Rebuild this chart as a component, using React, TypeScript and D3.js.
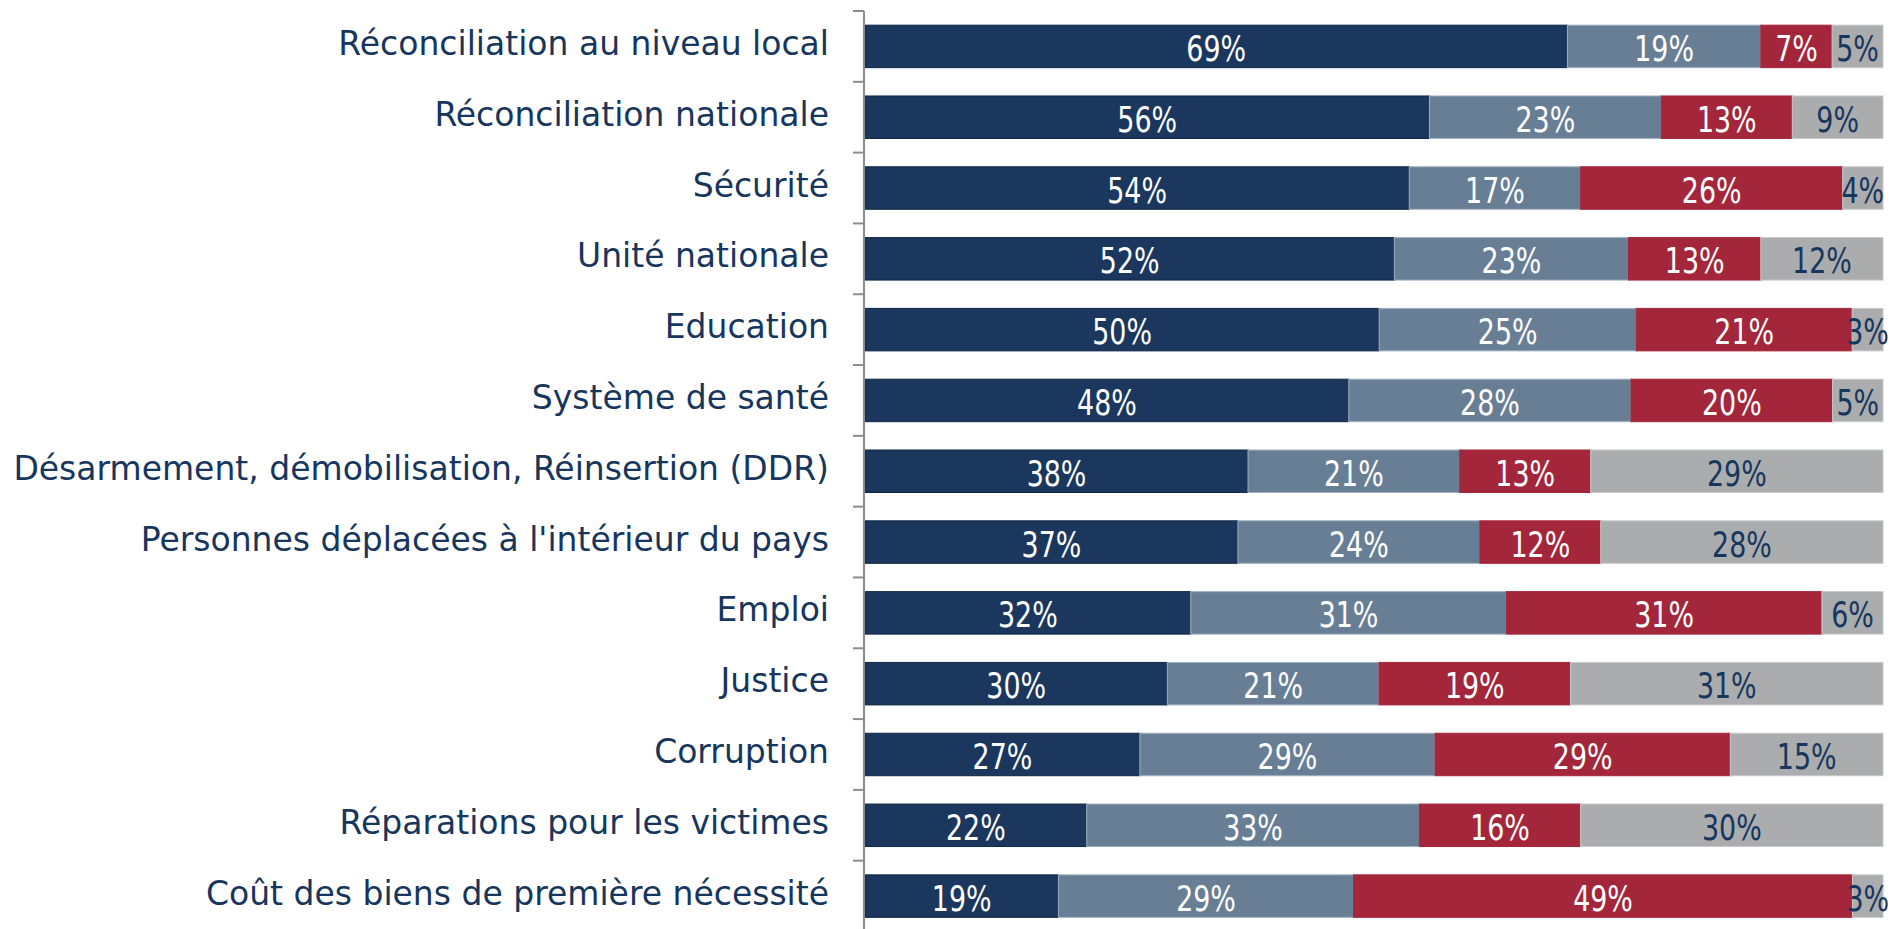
import React from 'react';
import * as d3 from 'd3';

const categories = [
  'Réconciliation au niveau local',
  'Réconciliation nationale',
  'Sécurité',
  'Unité nationale',
  'Education',
  'Système de santé',
  'Désarmement, démobilisation, Réinsertion (DDR)',
  "Personnes déplacées à l'intérieur du pays",
  'Emploi',
  'Justice',
  'Corruption',
  'Réparations pour les victimes',
  'Coût des biens de première nécessité',
];

const seriesKeys = ['s1', 's2', 's3', 's4'];
const s1 = [69, 56, 54, 52, 50, 48, 38, 37, 32, 30, 27, 22, 19];
const s2 = [19, 23, 17, 23, 25, 28, 21, 24, 31, 21, 29, 33, 29];
const s3 = [7, 13, 26, 13, 21, 20, 13, 12, 31, 19, 29, 16, 49];
const s4 = [5, 9, 4, 12, 3, 5, 29, 28, 6, 31, 15, 30, 3];

const fills = ['#1b375d', '#687e94', '#a3263a', '#abacae'];
const strokes = ['#0f2744', '#9fb0c1', '#a3263a', '#c9c9cb'];
const labelColors = ['#ffffff', '#ffffff', '#ffffff', '#17365d'];

const W = 1895;
const H = 929;

const App = () => {
  const rows = categories.map((c, i) => ({ cat: c, s1: s1[i], s2: s2[i], s3: s3[i], s4: s4[i] }));
  const stacked = d3.stack().keys(seriesKeys).offset(d3.stackOffsetExpand)(rows as any);

  const x = d3.scaleLinear().domain([0, 1]).range([865, 1883]);
  const y = d3.scaleBand().domain(categories).range([11, 931.5]).paddingInner(0.4).paddingOuter(0.2);
  const axisX = 864;
  const tickYs = d3.range(categories.length + 1).map((i) => y.range()[0] + i * y.step());

  return (
    <svg width={W} height={H} style={{ position: 'absolute', left: 0, top: 0, display: 'block' }}>
      {stacked.map((layer, si) => (
        <g key={seriesKeys[si]}>
          {layer.map((d, i) => (
            <rect
              key={i}
              x={x(d[0])}
              y={y(categories[i])}
              width={x(d[1]) - x(d[0])}
              height={y.bandwidth()}
              fill={fills[si]}
              stroke={strokes[si]}
              strokeWidth={1}
            />
          ))}
        </g>
      ))}
      {stacked.map((layer, si) => (
        <g key={'l' + seriesKeys[si]}>
          {layer.map((d, i) => {
            const cx = (x(d[0]) + x(d[1])) / 2;
            const cy = (y(categories[i]) as number) + y.bandwidth() / 2 + 2;
            return (
              <text
                key={i}
                transform={`translate(${cx},${cy}) scale(0.83,1)`}
                textAnchor="middle"
                dominantBaseline="central"
                fill={labelColors[si]}
                fontFamily="'DejaVu Sans Condensed', 'DejaVu Sans', sans-serif"
                fontSize={36}
              >
                {(d.data as any)[seriesKeys[si]]}%
              </text>
            );
          })}
        </g>
      ))}
      <line x1={axisX} x2={axisX} y1={tickYs[0]} y2={H} stroke="#8c8c8c" strokeWidth={2} />
      {tickYs.map((ty, i) => (
        <line key={i} x1={853} x2={axisX} y1={ty} y2={ty} stroke="#8c8c8c" strokeWidth={2} />
      ))}
      {categories.map((c) => (
        <text
          key={c}
          x={829}
          y={(y(c) as number) + y.bandwidth() / 2 - 3}
          textAnchor="end"
          dominantBaseline="central"
          fill="#17365d"
          fontFamily="'DejaVu Sans', sans-serif"
          fontSize={33}
        >
          {c}
        </text>
      ))}
    </svg>
  );
};

export default App;
